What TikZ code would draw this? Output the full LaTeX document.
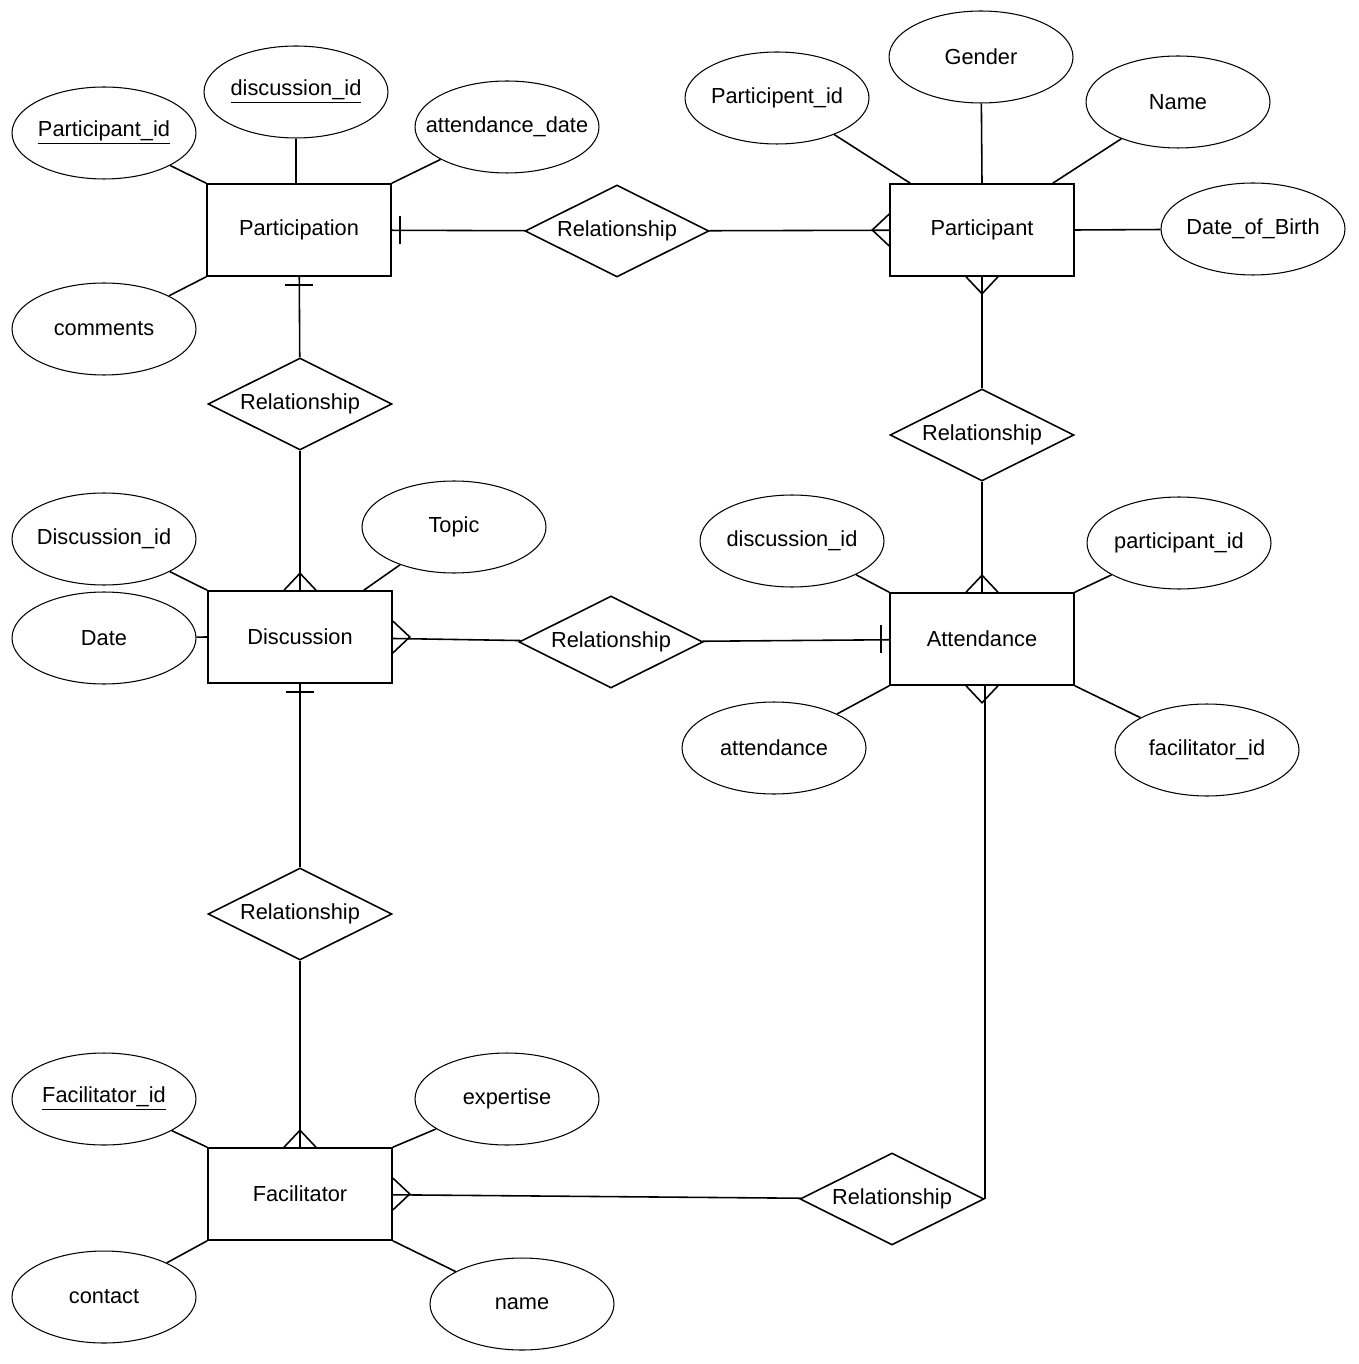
\documentclass[tikz,border=0pt]{standalone}
\usepackage{fontspec}
\setmainfont{Liberation Sans}
\usepackage{tikz}
\usetikzlibrary{shapes.geometric}

\newcommand\erfont{\fontsize{12.4pt}{15pt}\selectfont}

\begin{document}
\begin{tikzpicture}
        [ x = .02cm, y = -.02cm
        , entity/.style =
          { draw, rectangle, minimum width=3.68cm, minimum height=1.84cm, line width=.9pt, font=\erfont }
        , attr/.style =
          { draw, ellipse, minimum width=3.68cm, minimum height=1.84cm, inner xsep=-.6cm, inner ysep=0pt, line width=.6pt, font=\erfont }
        , rel/.style =
          { draw, diamond, aspect=2, minimum width=3.68cm, minimum height=1.84cm, inner sep=0pt, line width=.9pt, font=\erfont }
        , edge/.style =
          { line width=.9pt }
        , crow/.pic =
          { \draw [edge] (0,-16) -- (17,0) -- (0,16); }
        , one/.pic =
          { \draw [edge] (8,-14) -- (8,14); }
        ]
        \useasboundingbox (0,0) rectangle (1358,1364);

        % entities
        \node [entity] (pn) at (299,230) {Participation};
        \node [entity] (pt) at (982,230) {Participant};
        \node [entity] (ds) at (300,637) {Discussion};
        \node [entity] (att) at (982,639) {Attendance};
        \node [entity] (fc) at (300,1194) {Facilitator};

        % relationships
        \node [rel] (r1) at (617,231) {Relationship};
        \node [rel] (r2) at (300,404) {Relationship};
        \node [rel] (r3) at (982,435) {Relationship};
        \node [rel] (r4) at (611,642) {Relationship};
        \node [rel] (r5) at (300,914) {Relationship};
        \node [rel] (r6) at (892,1199) {Relationship};

        % attributes
        \node [attr] (pnpid) at (104,133) {\underline{Participant\_id}};
        \node [attr] (pndid) at (296,92) {\underline{discussion\_id}};
        \node [attr] (pndate) at (507,127) {attendance\_date};
        \node [attr] (pncom) at (104,329) {comments};
        \node [attr] (ptid) at (777,98) {Participent\_id};
        \node [attr] (ptgen) at (981,57) {Gender};
        \node [attr] (ptname) at (1178,102) {Name};
        \node [attr] (ptdob) at (1253,229) {Date\_of\_Birth};
        \node [attr] (dsid) at (104,539) {Discussion\_id};
        \node [attr] (dstop) at (454,527) {Topic};
        \node [attr] (dsdate) at (104,638) {Date};
        \node [attr] (attdid) at (792,541) {discussion\_id};
        \node [attr] (attpid) at (1179,543) {participant\_id};
        \node [attr] (attatt) at (774,748) {attendance};
        \node [attr] (attfid) at (1207,750) {facilitator\_id};
        \node [attr] (fcid) at (104,1099) {\underline{Facilitator\_id}};
        \node [attr] (fcexp) at (507,1099) {expertise};
        \node [attr] (fccon) at (104,1297) {contact};
        \node [attr] (fcname) at (522,1304) {name};

        \draw [edge] (pnpid) -- (pn.north west);
        \draw [edge] (pndid.south) -- (pndid.south |- pn.north);
        \draw [edge] (pndate) -- (pn.north east);
        \draw [edge] (pncom) -- (pn.south west);
        \draw [edge] (ptid) -- ([xshift=.42cm]pt.north west);
        \draw [edge] (ptgen) -- (pt.north);
        \draw [edge] (ptname) -- ([xshift=-.44cm]pt.north east);
        \draw [edge] (ptdob) -- (pt.east);
        \draw [edge] (dsid) -- (ds.north west);
        \draw [edge] (dstop) -- ([xshift=-.58cm]ds.north east);
        \draw [edge] (dsdate) -- (ds.west);
        \draw [edge] (attdid) -- (att.north west);
        \draw [edge] (attpid) -- (att.north east);
        \draw [edge] (attatt) -- (att.south west);
        \draw [edge] (attfid) -- (att.south east);
        \draw [edge] (fcid) -- (fc.north west);
        \draw [edge] (fcexp) -- (fc.north east);
        \draw [edge] (fccon) -- (fc.south west);
        \draw [edge] (fcname) -- (fc.south east);

        % relationship lines
        \draw [edge] (pn) -- (r1);
        \draw [edge] (r1) -- (pt);
        \draw [edge] (pn) -- (r2);
        \draw [edge] (r2) -- (ds);
        \draw [edge] (pt) -- (r3);
        \draw [edge] (r3) -- (att);
        \draw [edge] (ds) -- (r4);
        \draw [edge] (r4) -- (att);
        \draw [edge] (ds) -- (r5);
        \draw [edge] (r5) -- (fc);
        \draw [edge] (fc) -- (r6);
        \draw [edge] (r6.east) -- (r6.east |- att.south);

        % cardinalities
        \pic at (pn.east) {one};
        \pic [rotate=-90] at (pn.south) {one};
        \pic [rotate=-90] at (ds.south) {one};
        \pic [rotate=180] at (att.west) {one};
        \pic [rotate=180] at (pt.west) {crow};
        \pic [rotate=-90] at (pt.south) {crow};
        \pic [rotate=90] at (ds.north) {crow};
        \pic at (ds.east) {crow};
        \pic [rotate=90] at (att.north) {crow};
        \pic [rotate=-90] at (att.south) {crow};
        \pic [rotate=90] at (fc.north) {crow};
        \pic at (fc.east) {crow};
\end{tikzpicture}
\end{document}
